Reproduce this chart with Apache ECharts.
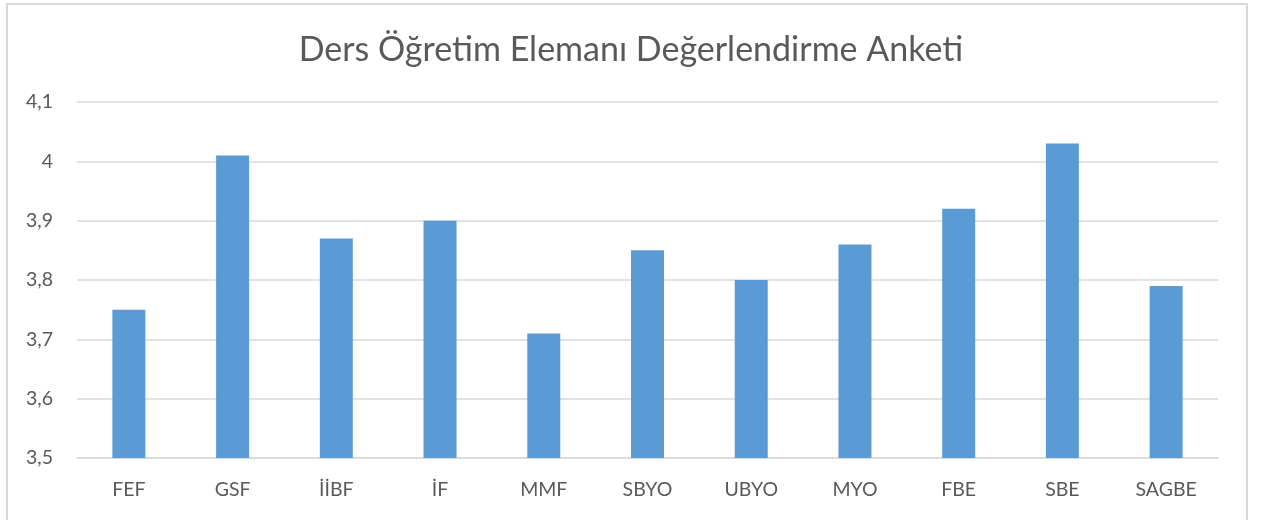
<!DOCTYPE html>
<html>
<head>
<meta charset="utf-8">
<script src="https://cdn.jsdelivr.net/npm/echarts@6/dist/echarts.min.js"></script>
<style>
  html, body { margin: 0; padding: 0; background: #fff; }
  #chart { width: 1262px; height: 520px; }
</style>
</head>
<body>
<div id="chart"></div>
<script>
const categories = ["FEF", "GSF", "İİBF", "İF", "MMF", "SBYO", "UBYO", "MYO", "FBE", "SBE", "SAGBE"];
const scores = [3.75, 4.01, 3.87, 3.90, 3.71, 3.85, 3.80, 3.86, 3.92, 4.03, 3.79];
const yMin = 3.5;
const yMax = 4.1;
const yStep = 0.1;

const fontFamily = "Lato, 'Open Sans', sans-serif";
const textColor = "#595959";

const chart = echarts.init(document.getElementById("chart"));

const fmt = (v) => String(parseFloat(v.toFixed(2))).replace(".", ",");

chart.setOption({
  animation: false,
  title: {
    text: "Ders Öğretim Elemanı Değerlendirme Anketi",
    left: "center",
    top: 28,
    textStyle: {
      fontFamily,
      fontSize: 34,
      fontWeight: "normal",
      color: textColor,
    },
  },
  graphic: [
    {
      type: "rect",
      shape: { x: 7, y: 4, width: 1240, height: 530 },
      style: { fill: "none", stroke: "#d9d9d9", lineWidth: 2 },
      silent: true,
    },
  ],
  grid: {
    left: 77,
    right: 44,
    top: 102,
    bottom: 62,
  },
  xAxis: {
    type: "category",
    data: categories,
    axisLine: { lineStyle: { color: "#d9d9d9", width: 1.5 } },
    axisTick: { show: false },
    axisLabel: {
      fontFamily,
      fontSize: 19.5,
      color: textColor,
      margin: 22,
    },
  },
  yAxis: {
    type: "value",
    min: yMin,
    max: yMax,
    interval: yStep,
    axisLine: { show: false },
    axisTick: { show: false },
    splitLine: { lineStyle: { color: "#d9d9d9", width: 1.5 } },
    axisLabel: {
      fontFamily,
      fontSize: 19.5,
      color: textColor,
      margin: 24,
      formatter: fmt,
    },
  },
  series: [
    {
      type: "bar",
      data: scores,
      barWidth: 33,
      itemStyle: { color: "#5b9bd5" },
    },
  ],
});
</script>
</body>
</html>
